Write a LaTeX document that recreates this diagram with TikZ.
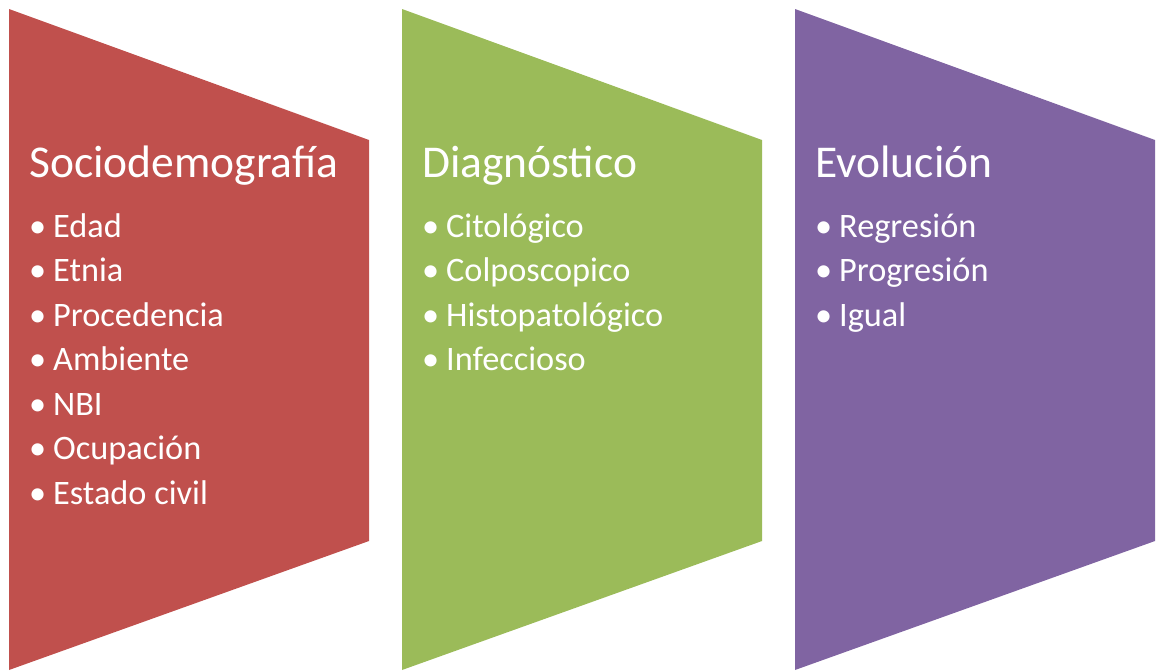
\documentclass[tikz,border=0pt]{standalone}
\usepackage{fontspec}
\setmainfont{Carlito}
\definecolor{cred}{HTML}{C0504D}
\definecolor{cgreen}{HTML}{9BBB59}
\definecolor{cpurple}{HTML}{8064A2}
\tikzset{
  ttl/.style={anchor=base west, inner sep=0pt, text=white, font=\fontsize{45.5}{45.5}\selectfont},
  itm/.style={anchor=base west, inner sep=0pt, text=white, font=\fontsize{34.3}{34.3}\selectfont},
}
\newcommand{\bul}[1]{\makebox[24pt][l]{•}#1}
\begin{document}
\begin{tikzpicture}[x=1pt,y=-1pt]
\useasboundingbox (0,0) rectangle (1157,670);
\foreach \xo/\col in {9/cred,402/cgreen,795/cpurple}{
  \fill[\col] (\xo,9) -- (\xo+360,140) -- (\xo+360,541) -- (\xo,670) -- cycle;
}
% column 1
\node[ttl] (t1) at (29,177) {Sociodemografía};
\node[itm] (a1) at (29,237) {\bul{Edad}};
\node[itm] (a2) at (29,281.5) {\bul{Etnia}};
\node[itm] (a3) at (29,326) {\bul{Procedencia}};
\node[itm] (a4) at (29,370.5) {\bul{Ambiente}};
\node[itm] (a5) at (29,415) {\bul{NBI}};
\node[itm] (a6) at (29,459.5) {\bul{Ocupación}};
\node[itm] (a7) at (29,504) {\bul{Estado civil}};
% column 2
\node[ttl] (t2) at (422,177) {Diagnóstico};
\node[itm] (b1) at (422,237) {\bul{Citológico}};
\node[itm] (b2) at (422,281.5) {\bul{Colposcopico}};
\node[itm] (b3) at (422,326) {\bul{Histopatológico}};
\node[itm] (b4) at (422,370.5) {\bul{Infeccioso}};
% column 3
\node[ttl] (t3) at (815,177) {Evolución};
\node[itm] (c1) at (815,237) {\bul{Regresión}};
\node[itm] (c2) at (815,281.5) {\bul{Progresión}};
\node[itm] (c3) at (815,326) {\bul{Igual}};
\end{tikzpicture}
\end{document}
